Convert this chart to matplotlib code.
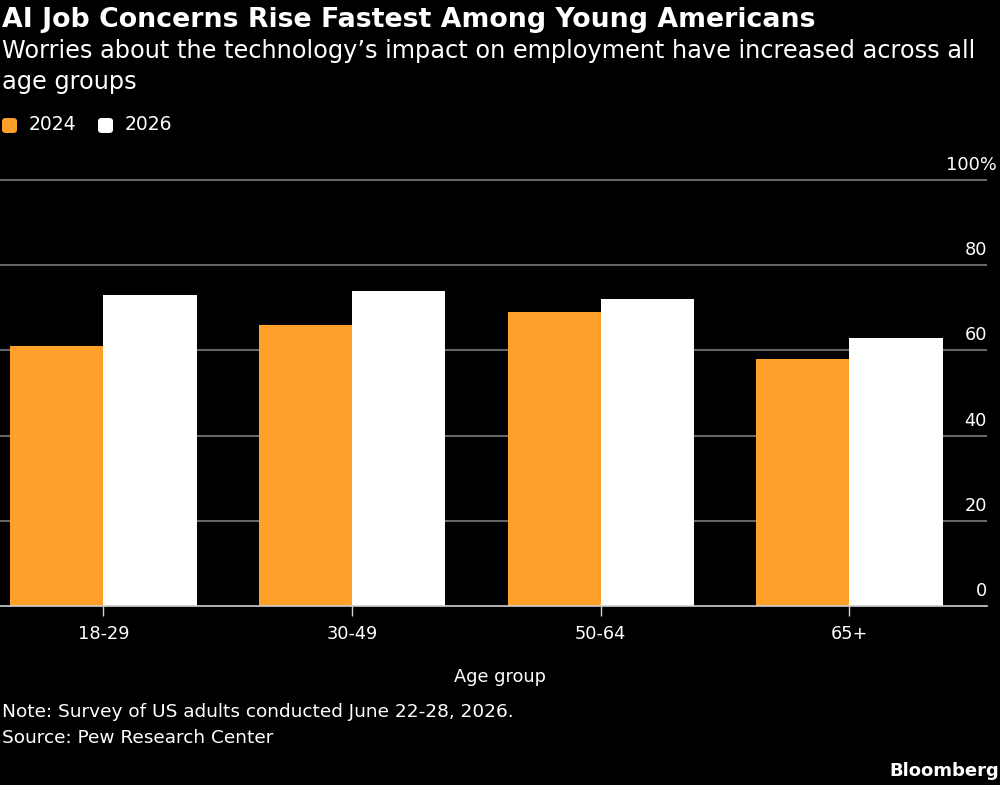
import matplotlib
matplotlib.use("Agg")
import matplotlib.pyplot as plt
from matplotlib.patches import FancyBboxPatch
import numpy as np

# datos
age_groups = ["18-29", "30-49", "50-64", "65+"]
share_2024 = [61, 66, 69, 58]
share_2026 = [73, 74, 72, 63]
series_names = ["2024", "2026"]
y_ticks = [0, 20, 40, 60, 80, 100]

orange = "#ffa02b"
white = "#ffffff"
W, H = 1000, 785

plt.rcParams["font.family"] = ["DejaVu Sans"]

fig = plt.figure(figsize=(W / 100, H / 100), dpi=100, facecolor="black")


def fy(px):
    return 1 - px / H


# ejes: base en y=606 px, 4.26 px por punto
ax = fig.add_axes([0, fy(606), 0.987, (606 - 158.7) / H])
ax.set_facecolor("black")
ax.set_xlim(-0.416, 3.553)
ax.set_ylim(0, 105)

x = np.arange(len(age_groups))
w = 0.375
ax.bar(x - w / 2, share_2024, w, color=orange, zorder=3)
ax.bar(x + w / 2, share_2026, w, color=white, zorder=3)

# rejilla y etiquetas del eje y
for v in y_ticks[1:]:
    ax.axhline(v, color="#666666", lw=1.5, zorder=1)
for v in y_ticks:
    label = f"{v}%" if v == y_ticks[-1] else str(v)
    dx = 10 if v == y_ticks[-1] else 0
    ax.annotate(label, xy=(1.0, v), xycoords=ax.get_yaxis_transform(),
                xytext=(dx, 10), textcoords="offset pixels",
                ha="right", va="baseline", color="white", fontsize=12.8)

ax.set_yticks([])
for s in ["top", "left", "right"]:
    ax.spines[s].set_visible(False)
ax.spines["bottom"].set_color("#d0d0d0")
ax.spines["bottom"].set_linewidth(1.2)
ax.spines["bottom"].set_zorder(4)
ax.set_xticks(x, age_groups)
ax.tick_params(axis="x", colors="#d0d0d0", length=7, width=1, pad=7,
               labelcolor="white", labelsize=12.8)

# titulos
fig.text(0.002, fy(27), "AI Job Concerns Rise Fastest Among Young Americans",
         color="white", fontsize=19.3, weight="bold", va="baseline")
fig.text(0.002, fy(58), "Worries about the technology\u2019s impact on employment have increased across all",
         color="white", fontsize=17.3, va="baseline")
fig.text(0.002, fy(89), "age groups", color="white", fontsize=17.3, va="baseline")

# leyenda
for i, (name, col) in enumerate(zip(series_names, [orange, white])):
    x0 = 2 + i * 96
    fig.patches.append(FancyBboxPatch(
        (x0 / W, fy(133)), 15 / W, 15 / H,
        boxstyle="round,pad=0,rounding_size=0.004",
        transform=fig.transFigure, facecolor=col, edgecolor="none"))
    fig.text((x0 + 27) / W, fy(125), name, color="white", fontsize=13.5, va="center")

fig.text(0.5, fy(677), "Age group", color="white", fontsize=12.8, ha="center", va="center")

fig.text(0.002, fy(717), "Note: Survey of US adults conducted June 22-28, 2026.",
         color="white", fontsize=13.3, va="baseline")
fig.text(0.002, fy(743), "Source: Pew Research Center",
         color="white", fontsize=13.3, va="baseline")
fig.text(0.999, fy(776), "Bloomberg", color="white", fontsize=13,
         weight="bold", ha="right", va="baseline")

fig.savefig("out.png", dpi=100, facecolor="black")
